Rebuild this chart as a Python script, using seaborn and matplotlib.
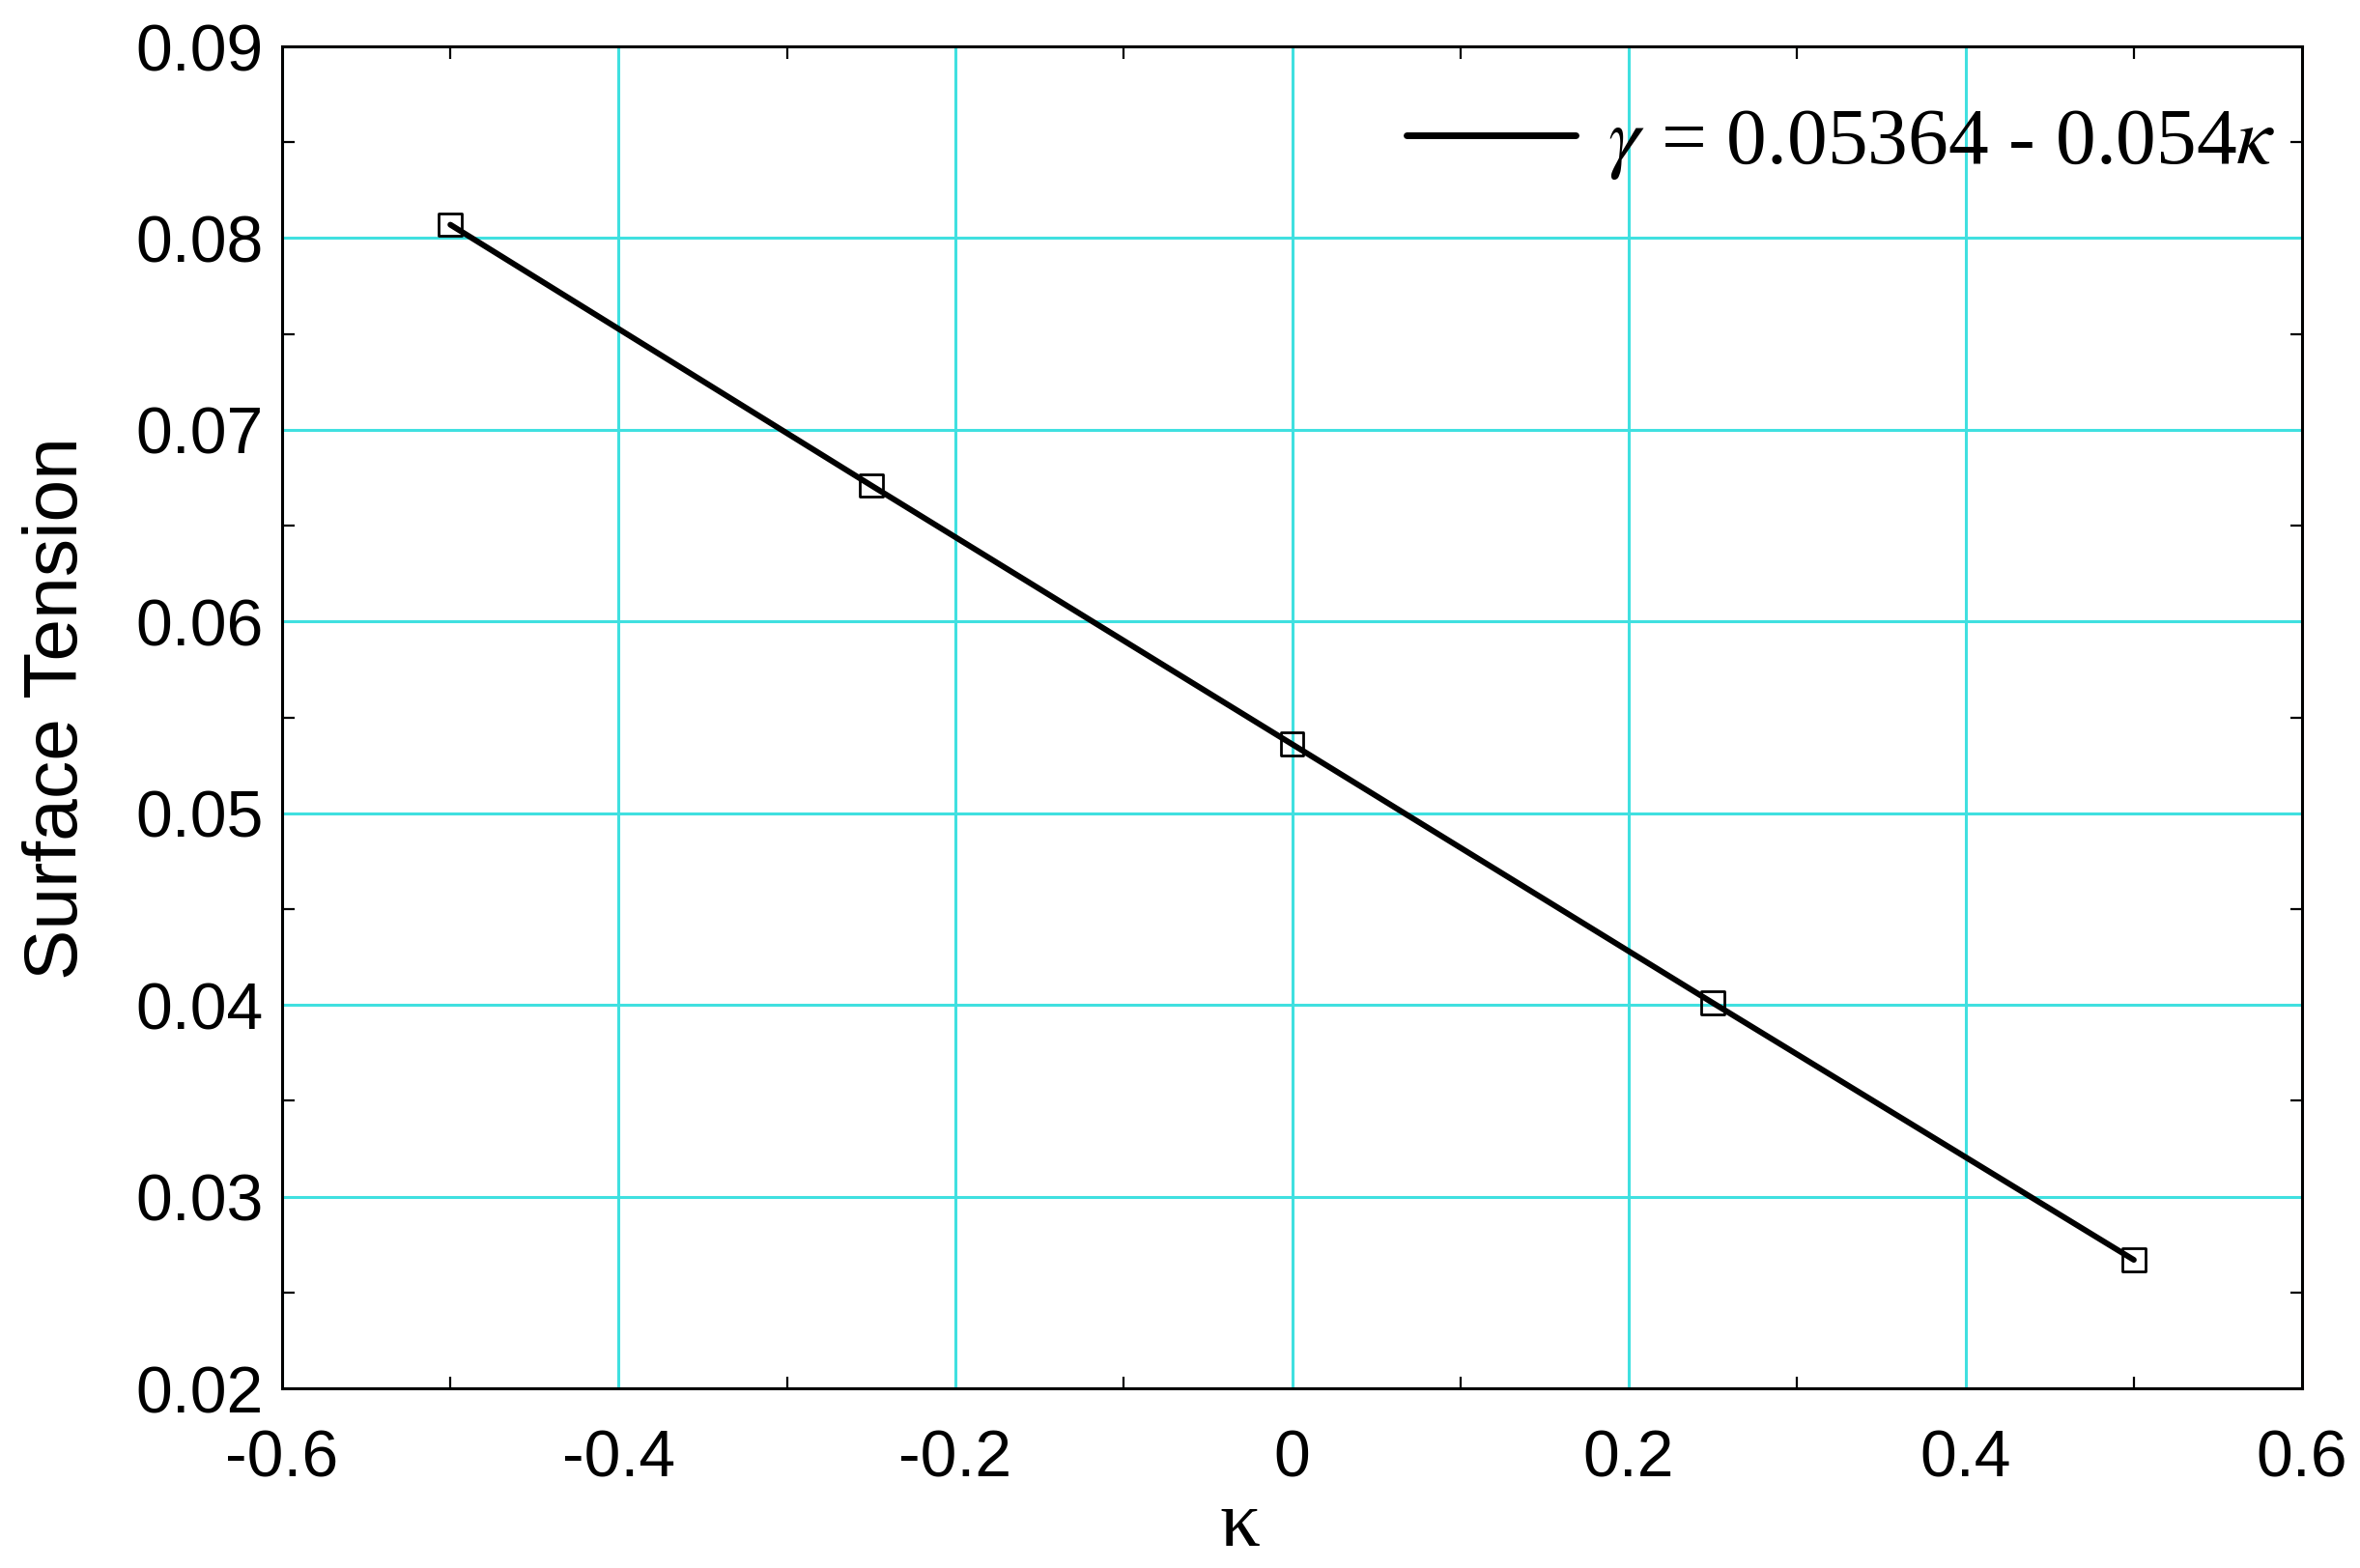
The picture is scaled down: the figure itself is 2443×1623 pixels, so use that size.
import numpy as np
import pandas as pd
import matplotlib
matplotlib.use("Agg")
import matplotlib.pyplot as plt
from matplotlib.ticker import MultipleLocator
import seaborn as sns

# Data
kappa = [-0.5, -0.25, 0.0, 0.25, 0.5]
surface_tension = [0.0807, 0.0671, 0.0536, 0.0401, 0.0267]
legend_label = r"$\gamma$ = 0.05364 - 0.054$\kappa$"
x_ticks = [-0.6, -0.4, -0.2, 0, 0.2, 0.4, 0.6]
x_tick_labels = ["-0.6", "-0.4", "-0.2", "0", "0.2", "0.4", "0.6"]
y_ticks = [0.02, 0.03, 0.04, 0.05, 0.06, 0.07, 0.08, 0.09]
y_tick_labels = ["0.02", "0.03", "0.04", "0.05", "0.06", "0.07", "0.08", "0.09"]

df = pd.DataFrame({"kappa": kappa, "gamma": surface_tension})

sns.set_theme(style="white")
plt.rcParams["font.family"] = ["Liberation Sans", "DejaVu Sans"]
plt.rcParams["mathtext.fontset"] = "stix"
plt.rcParams["text.color"] = "black"
plt.rcParams["axes.labelcolor"] = "black"
plt.rcParams["xtick.color"] = "black"
plt.rcParams["ytick.color"] = "black"

fig = plt.figure(figsize=(24.43, 16.23), dpi=100)
ax = fig.add_axes([0.1195, 0.1146, 0.8560, 0.8558])

GRID = "#40E0E0"

sns.scatterplot(data=df, x="kappa", y="gamma", marker="s", s=17**2,
                facecolor="none", edgecolor="black", linewidth=2.0,
                legend=False, ax=ax, zorder=3)
sns.lineplot(data=df, x="kappa", y="gamma", color="black", linewidth=4.3,
             label=legend_label, ax=ax, zorder=4)

ax.set_xlim(-0.6, 0.6)
ax.set_ylim(0.02, 0.09)
ax.set_xticks(x_ticks)
ax.set_xticklabels(x_tick_labels)
ax.set_yticks(y_ticks)
ax.set_yticklabels(y_tick_labels)
ax.xaxis.set_minor_locator(MultipleLocator(0.1))
ax.yaxis.set_minor_locator(MultipleLocator(0.005))

ax.grid(True, which="major", color=GRID, linewidth=2.2)
ax.set_axisbelow(True)

ax.tick_params(axis="both", which="major", length=0, labelsize=49, colors="black")
ax.tick_params(axis="x", which="major", pad=30)
ax.tick_params(axis="y", which="major", pad=14)
ax.tick_params(which="minor", direction="in", length=9, width=1.6, color="black",
               top=True, right=True, bottom=True, left=True)

for sp in ax.spines.values():
    sp.set_visible(True)
    sp.set_color("black")
    sp.set_linewidth(2.2)

ax.set_xlabel("κ", fontsize=60, family=["Liberation Serif", "DejaVu Serif"], color="black")
ax.xaxis.label.set_va("baseline")
ax.set_ylabel("Surface Tension", fontsize=56.5, color="black")
ax.xaxis.set_label_coords(0.474, -0.1174)
ax.yaxis.set_label_coords(-0.0937, 0.507)

leg = ax.legend(loc="upper right", frameon=False,
                bbox_to_anchor=(1.007, 0.985),
                handlelength=2.1, handletextpad=0.4, borderaxespad=0.1,
                prop={"family": "Liberation Serif", "size": 60})
for h in leg.get_lines():
    h.set_linewidth(5)
for t in leg.get_texts():
    t.set_color("black")

fig.savefig("out.png", dpi=100, facecolor="white")
